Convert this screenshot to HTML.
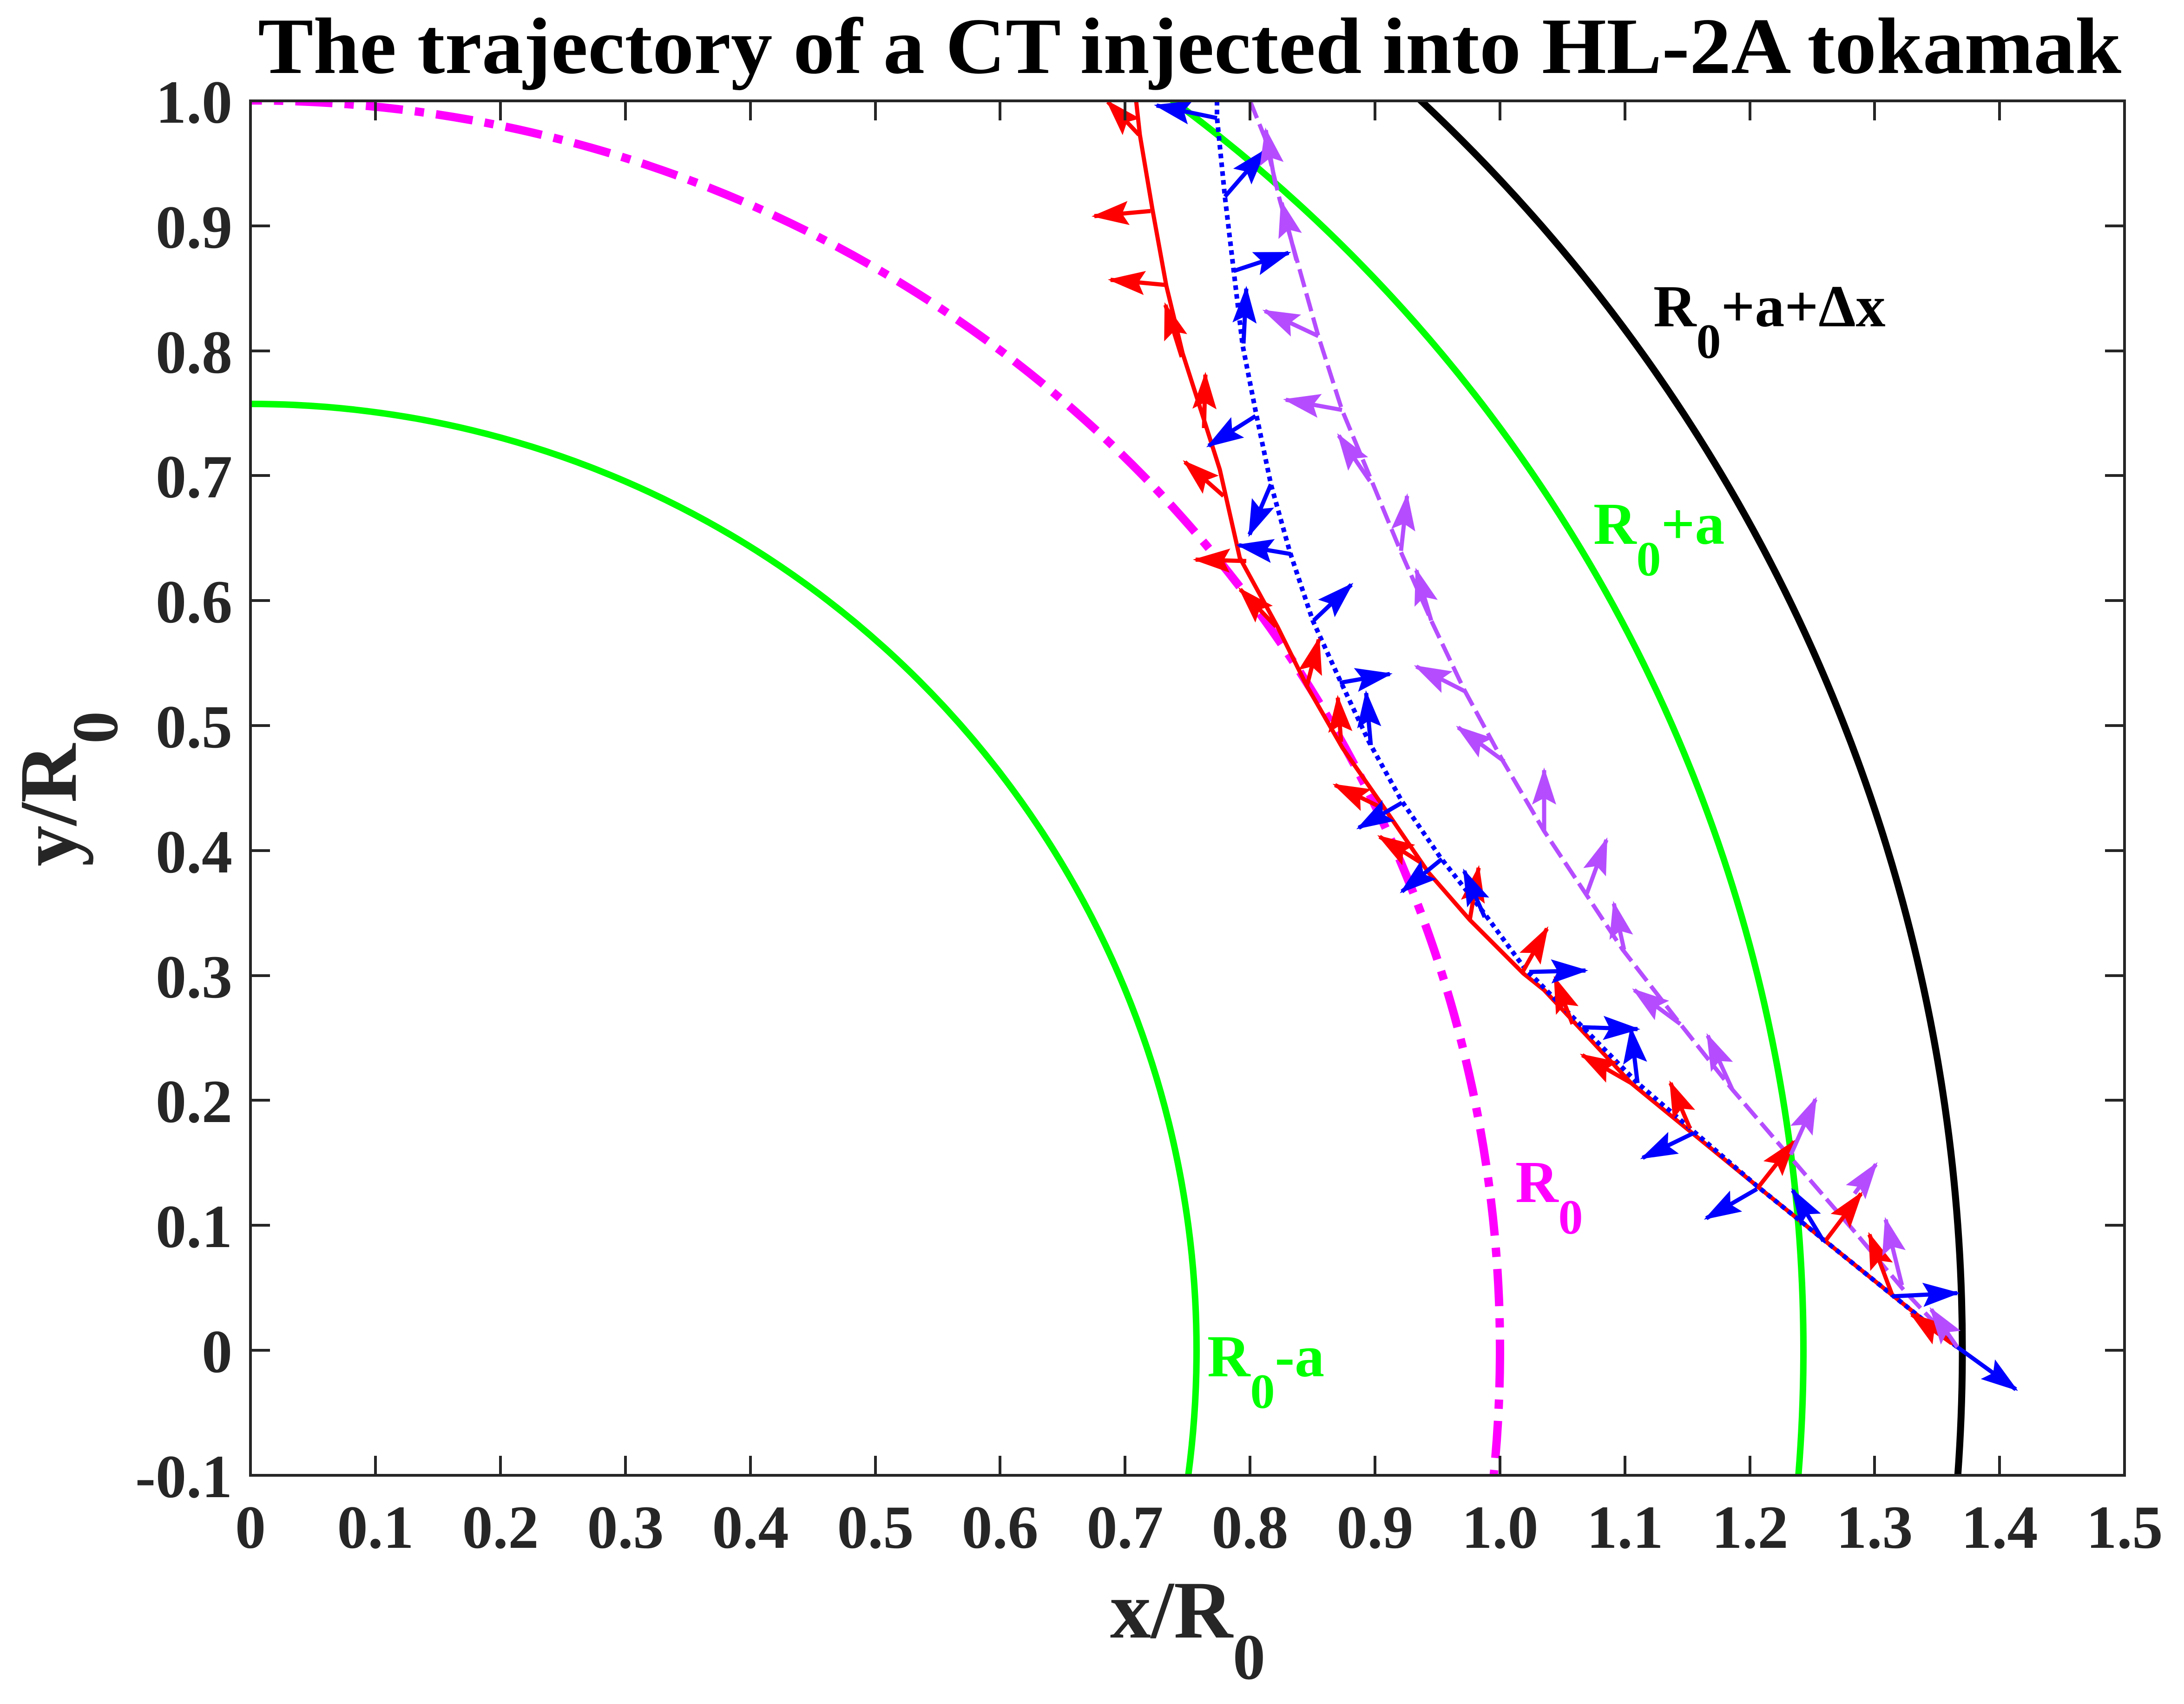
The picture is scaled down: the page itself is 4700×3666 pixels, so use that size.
<!DOCTYPE html>
<html><head><meta charset="utf-8"><style>html,body{margin:0;padding:0;background:#fff;width:4700px;height:3666px;overflow:hidden}svg{display:block}</style></head>
<body>
<svg width="4700" height="3666" viewBox="0 0 4700 3666" xmlns="http://www.w3.org/2000/svg" font-family="Liberation Serif, serif" font-weight="bold" overflow="hidden">
<defs>
<clipPath id="ax"><rect x="539" y="217" width="4033" height="2957"/></clipPath>
<marker id="mr" markerUnits="userSpaceOnUse" markerWidth="80" markerHeight="52" viewBox="0 0 80 52" refX="74" refY="26" orient="auto"><path d="M0,0 L80,26 L0,52 L14,26 z" fill="#ff0000"/></marker>
<marker id="mb" markerUnits="userSpaceOnUse" markerWidth="80" markerHeight="52" viewBox="0 0 80 52" refX="74" refY="26" orient="auto"><path d="M0,0 L80,26 L0,52 L14,26 z" fill="#0000ff"/></marker>
<marker id="mp" markerUnits="userSpaceOnUse" markerWidth="80" markerHeight="52" viewBox="0 0 80 52" refX="74" refY="26" orient="auto"><path d="M0,0 L80,26 L0,52 L14,26 z" fill="#b54dff"/></marker>
</defs>
<rect width="4700" height="3666" fill="#fff"/>
<text x="555" y="157" font-size="172" fill="#000" textLength="4010" lengthAdjust="spacingAndGlyphs">The trajectory of a CT injected into HL-2A tokamak</text>

<g clip-path="url(#ax)" fill="none">
<circle cx="539" cy="2905" r="2036" stroke="#00ff00" stroke-width="14"/>
<circle cx="539" cy="2905" r="2689" stroke="#ff00ff" stroke-width="18" stroke-dasharray="80 26 20 26"/>
<circle cx="539" cy="2905" r="3342" stroke="#00ff00" stroke-width="14"/>
<circle cx="539" cy="2905" r="3684" stroke="#000" stroke-width="15"/>

<polyline stroke="#b54dff" stroke-width="9" stroke-dasharray="40 14" points="2690,217 2722,296 2754,430 2792,563 2837,723 2888,882 2952,1035 3015,1188 3080,1335 3150,1482 3233,1635 3323,1788 3412,1922 3492,2043 3616,2203 3728,2344 3854,2491 3987,2645 4100,2779 4212,2898"/>
<polyline stroke="#ff0000" stroke-width="9" points="2445,217 2453,290 2480,450 2510,615 2545,760 2590,900 2625,1010 2668,1200 2749,1348 2812,1475 2889,1609 2978,1737 3074,1877 3163,1979 3278,2094 3323,2130 3510,2330 3784,2554 4072,2786 4212,2898"/>
<polyline stroke="#0000ff" stroke-width="10" stroke-dasharray="10 9" points="2619,217 2619,253 2636,423 2655,583 2674,742 2703,889 2735,1042 2776,1188 2825,1335 2883,1462 2946,1596 3017,1724 3100,1845 3195,1966 3284,2087 3300,2102 3524,2330 3784,2554 4072,2786 4212,2898"/>

<g stroke="#ff0000" stroke-width="9" marker-end="url(#mr)">
<line x1="2451" y1="290" x2="2384" y2="219"/>
<line x1="2476" y1="454" x2="2355" y2="465"/>
<line x1="2508" y1="613" x2="2390" y2="602"/>
<line x1="2543" y1="768" x2="2508" y2="656"/>
<line x1="2591" y1="921" x2="2594" y2="806"/>
<line x1="2633" y1="1067" x2="2550" y2="994"/>
<line x1="2682" y1="1207" x2="2573" y2="1204"/>
<line x1="2746" y1="1348" x2="2669" y2="1268"/>
<line x1="2812" y1="1478" x2="2838" y2="1376"/>
<line x1="2886" y1="1596" x2="2879" y2="1501"/>
<line x1="2972" y1="1737" x2="2873" y2="1689"/>
<line x1="3061" y1="1858" x2="2969" y2="1800"/>
<line x1="3163" y1="1979" x2="3182" y2="1867"/>
<line x1="3275" y1="2094" x2="3329" y2="1998"/>
<line x1="3384" y1="2203" x2="3346" y2="2105"/>
<line x1="3510" y1="2330" x2="3405" y2="2270"/>
<line x1="3637" y1="2428" x2="3595" y2="2330"/>
<line x1="3784" y1="2554" x2="3861" y2="2456"/>
<line x1="3928" y1="2670" x2="4005" y2="2568"/>
<line x1="4072" y1="2786" x2="4023" y2="2656"/>
<line x1="4200" y1="2890" x2="4114" y2="2828"/>
</g>
<g stroke="#0000ff" stroke-width="9" marker-end="url(#mb)">
<line x1="2619" y1="254" x2="2489" y2="227"/>
<line x1="2636" y1="423" x2="2722" y2="324"/>
<line x1="2655" y1="583" x2="2773" y2="544"/>
<line x1="2676" y1="739" x2="2682" y2="621"/>
<line x1="2702" y1="895" x2="2601" y2="959"/>
<line x1="2735" y1="1042" x2="2689" y2="1150"/>
<line x1="2778" y1="1192" x2="2666" y2="1173"/>
<line x1="2827" y1="1335" x2="2908" y2="1258"/>
<line x1="2883" y1="1469" x2="2991" y2="1450"/>
<line x1="2950" y1="1603" x2="2940" y2="1491"/>
<line x1="3017" y1="1727" x2="2924" y2="1781"/>
<line x1="3103" y1="1848" x2="3017" y2="1918"/>
<line x1="3195" y1="1973" x2="3151" y2="1874"/>
<line x1="3291" y1="2091" x2="3412" y2="2088"/>
<line x1="3405" y1="2210" x2="3524" y2="2214"/>
<line x1="3524" y1="2330" x2="3510" y2="2214"/>
<line x1="3644" y1="2438" x2="3535" y2="2491"/>
<line x1="3781" y1="2558" x2="3672" y2="2621"/>
<line x1="3924" y1="2670" x2="3858" y2="2561"/>
<line x1="4072" y1="2789" x2="4212" y2="2782"/>
<line x1="4212" y1="2898" x2="4338" y2="2989"/>
</g>
<g stroke="#b54dff" stroke-width="9" marker-end="url(#mp)">
<line x1="2745" y1="400" x2="2724" y2="280"/>
<line x1="2790" y1="560" x2="2758" y2="436"/>
<line x1="2837" y1="723" x2="2722" y2="669"/>
<line x1="2888" y1="882" x2="2767" y2="860"/>
<line x1="2948" y1="1035" x2="2881" y2="937"/>
<line x1="3015" y1="1185" x2="3028" y2="1067"/>
<line x1="3080" y1="1335" x2="3048" y2="1227"/>
<line x1="3154" y1="1488" x2="3048" y2="1434"/>
<line x1="3237" y1="1638" x2="3138" y2="1565"/>
<line x1="3323" y1="1788" x2="3323" y2="1657"/>
<line x1="3415" y1="1922" x2="3457" y2="1807"/>
<line x1="3495" y1="2043" x2="3473" y2="1944"/>
<line x1="3616" y1="2203" x2="3517" y2="2130"/>
<line x1="3728" y1="2344" x2="3675" y2="2228"/>
<line x1="3854" y1="2484" x2="3907" y2="2365"/>
<line x1="3991" y1="2568" x2="4037" y2="2505"/>
<line x1="4093" y1="2765" x2="4058" y2="2624"/>
<line x1="4212" y1="2898" x2="4156" y2="2817"/>
</g>
</g>

<g stroke="#262626" stroke-width="6" fill="none">
<rect x="539" y="217" width="4033" height="2957"/>
<path d="M808,3174v-42M1077,3174v-42M1346,3174v-42M1615,3174v-42M1884,3174v-42M2152,3174v-42M2421,3174v-42M2690,3174v-42M2959,3174v-42M3228,3174v-42M3497,3174v-42M3766,3174v-42M4034,3174v-42M4303,3174v-42
M808,217v42M1077,217v42M1346,217v42M1615,217v42M1884,217v42M2152,217v42M2421,217v42M2690,217v42M2959,217v42M3228,217v42M3497,217v42M3766,217v42M4034,217v42M4303,217v42
M539,486h42M539,755h42M539,1023h42M539,1292h42M539,1561h42M539,1830h42M539,2099h42M539,2367h42M539,2636h42M539,2905h42
M4572,486h-42M4572,755h-42M4572,1023h-42M4572,1292h-42M4572,1561h-42M4572,1830h-42M4572,2099h-42M4572,2367h-42M4572,2636h-42M4572,2905h-42"/>
</g>

<g font-size="132" fill="#262626" text-anchor="end">
<text x="500" y="264">1.0</text><text x="500" y="533">0.9</text><text x="500" y="802">0.8</text><text x="500" y="1070">0.7</text><text x="500" y="1339">0.6</text><text x="500" y="1608">0.5</text><text x="500" y="1877">0.4</text><text x="500" y="2146">0.3</text><text x="500" y="2414">0.2</text><text x="500" y="2683">0.1</text><text x="500" y="2952">0</text><text x="500" y="3221">-0.1</text>
</g>
<g font-size="132" fill="#262626" text-anchor="middle">
<text x="539" y="3330">0</text><text x="808" y="3330">0.1</text><text x="1077" y="3330">0.2</text><text x="1346" y="3330">0.3</text><text x="1615" y="3330">0.4</text><text x="1884" y="3330">0.5</text><text x="2152" y="3330">0.6</text><text x="2421" y="3330">0.7</text><text x="2690" y="3330">0.8</text><text x="2959" y="3330">0.9</text><text x="3228" y="3330">1.0</text><text x="3497" y="3330">1.1</text><text x="3766" y="3330">1.2</text><text x="4034" y="3330">1.3</text><text x="4303" y="3330">1.4</text><text x="4572" y="3330">1.5</text>
</g>

<text x="2389" y="3523" font-size="176" fill="#262626">x/R<tspan dy="89" font-size="140">0</tspan></text>
<text transform="translate(163,1864) rotate(-90)" font-size="176" fill="#262626">y/R<tspan dy="89" font-size="140">0</tspan></text>

<text x="3558" y="702" font-size="128" fill="#000">R<tspan dy="68" font-size="106">0</tspan><tspan dy="-68">+a+Δx</tspan></text>
<text x="3429" y="1170" font-size="128" fill="#00ff00">R<tspan dy="68" font-size="106">0</tspan><tspan dy="-68">+a</tspan></text>
<text x="3261" y="2586" font-size="128" fill="#ff00ff">R<tspan dy="68" font-size="106">0</tspan></text>
<text x="2598" y="2961" font-size="128" fill="#00ff00">R<tspan dy="68" font-size="106">0</tspan><tspan dy="-68">-a</tspan></text>
</svg>
</body></html>
